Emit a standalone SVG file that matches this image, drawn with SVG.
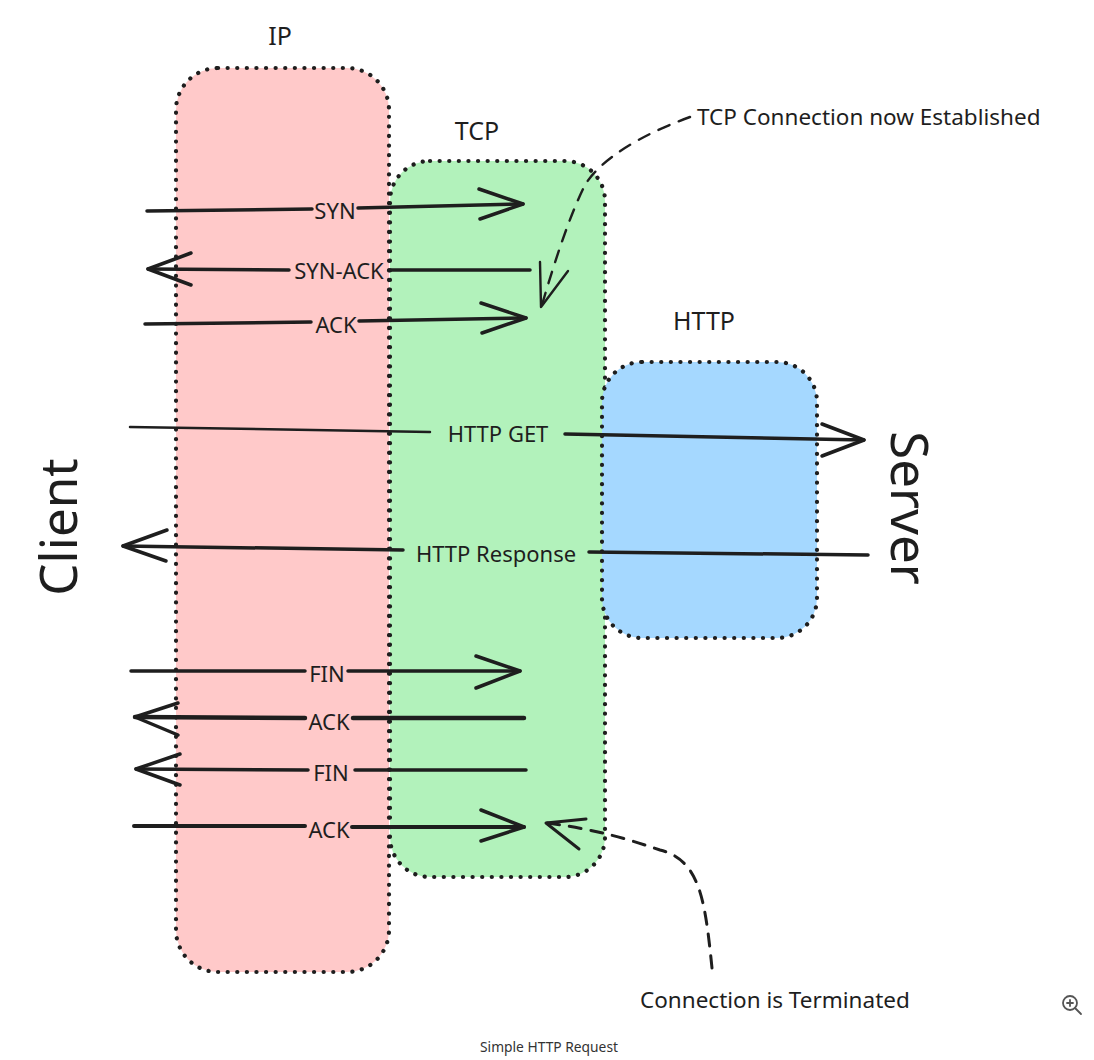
<svg xmlns="http://www.w3.org/2000/svg" width="1094" height="1060" viewBox="0 0 1094 1060">
<style>
.box{stroke:#1e1e1e;stroke-width:4.2;stroke-dasharray:0.1 9.5;stroke-linecap:round;stroke-linejoin:round}
.lbl{font-family:"Noto Sans","Open Sans",sans-serif;fill:#1e1e1e}
.ln{fill:none;stroke:#1e1e1e;stroke-width:3.5;stroke-linecap:round;stroke-linejoin:round}
.dash{fill:none;stroke:#1e1e1e;stroke-width:2.4;stroke-dasharray:12 10;stroke-linecap:round}
.head{fill:none;stroke:#1e1e1e;stroke-width:2.4;stroke-linecap:round;stroke-linejoin:round}
</style>
<rect width="1094" height="1060" fill="#ffffff"/>
<g id="ip">
<rect class="box" x="176" y="68" width="213" height="904" rx="42" fill="#ffc9c9"/>
<text class="lbl" x="280" y="45" font-size="25" text-anchor="middle">IP</text>
</g>
<g id="tcp">
<rect class="box" x="390" y="161" width="215" height="716" rx="40" fill="#b2f2bb"/>
<text class="lbl" x="477" y="140" font-size="25" text-anchor="middle">TCP</text>
</g>
<g id="http">
<rect class="box" x="602" y="362" width="215" height="276" rx="40" fill="#a5d8ff"/>
<text class="lbl" x="704" y="330" font-size="25" text-anchor="middle">HTTP</text>
</g>
<g id="client">
<text class="lbl" x="0" y="0" font-size="51" text-anchor="middle" transform="translate(77 527) rotate(-90)">Client</text>
</g>
<g id="server">
<text class="lbl" x="0" y="0" font-size="51" text-anchor="middle" transform="translate(891 508) rotate(90)">Server</text>
</g>
<g id="connectors">
<path class="ln" d="M147 211 L312 209 M358 208 L523 204"/>
<path class="ln" d="M479 189 L523 204 L480 219"/>
<text class="lbl" x="335" y="219" font-size="22" text-anchor="middle">SYN</text>
<path class="ln" d="M530 270 L389 270 M289 270 L148 269"/>
<path class="ln" d="M191 253 L148 269 L191 285"/>
<text class="lbl" x="339" y="279" font-size="22" text-anchor="middle">SYN-ACK</text>
<path class="ln" d="M145 324 L311 322 M359 321 L526 318"/>
<path class="ln" d="M481 303 L526 318 L482 333"/>
<text class="lbl" x="336" y="333" font-size="22" text-anchor="middle">ACK</text>
<path class="ln" style="stroke-width:2.5" d="M130 427 L430 432"/>
<path class="ln" d="M565 434 L864 440"/>
<path class="ln" d="M822 424 L864 440 L822 456"/>
<text class="lbl" x="498" y="442" font-size="22" text-anchor="middle">HTTP GET</text>
<path class="ln" d="M868 555 L589 552 M403 550 L123 546"/>
<path class="ln" d="M167 530 L123 546 L166 561"/>
<text class="lbl" x="496" y="562" font-size="22" text-anchor="middle">HTTP Response</text>
<path class="ln" d="M131 671 L305 671 M348 671 L520 671"/>
<path class="ln" d="M476 656 L520 671 L476 688"/>
<text class="lbl" x="327" y="682" font-size="22" text-anchor="middle">FIN</text>
<path class="ln" style="stroke-width:4.5" d="M524 718 L353 718 M305 718 L135 717"/>
<path class="ln" d="M178 703 L135 717 L178 735"/>
<text class="lbl" x="329" y="730" font-size="22" text-anchor="middle">ACK</text>
<path class="ln" d="M526 770 L355 770 M308 770 L136 769"/>
<path class="ln" d="M180 754 L136 769 L180 785"/>
<text class="lbl" x="331" y="781" font-size="22" text-anchor="middle">FIN</text>
<path class="ln" style="stroke-width:4" d="M134 826 L305 826 M352 827 L524 827"/>
<path class="ln" d="M481 810 L524 827 L481 841"/>
<text class="lbl" x="329" y="838" font-size="22" text-anchor="middle">ACK</text>
<path class="dash" d="M690 117 C640 135 600 160 585 185 C570 215 555 260 542 305"/>
<path class="head" d="M540 262 L541 307 L568 271"/>
<path class="dash" style="stroke-width:3" d="M712 968 C705 900 700 860 660 850 C630 840 600 830 547 823"/>
<path class="head" style="stroke-width:3" d="M586 819 L546 823 L579 849"/>
</g>
<g id="notes">
<text class="lbl" x="697" y="125" font-size="22.5">TCP Connection now Established</text>
<text class="lbl" x="640" y="1008" font-size="22.5">Connection is Terminated</text>
<text class="lbl" x="549" y="1052" font-size="13.8" text-anchor="middle" style="fill:#333">Simple HTTP Request</text>
</g>
<g id="zoom-icon" fill="none" stroke="#555" stroke-width="1.8" stroke-linecap="round">
<circle cx="1070" cy="1003" r="7"/>
<path d="M1075 1008 L1081 1014 M1067 1003 L1073 1003 M1070 1000 L1070 1006"/>
</g>
</svg>
